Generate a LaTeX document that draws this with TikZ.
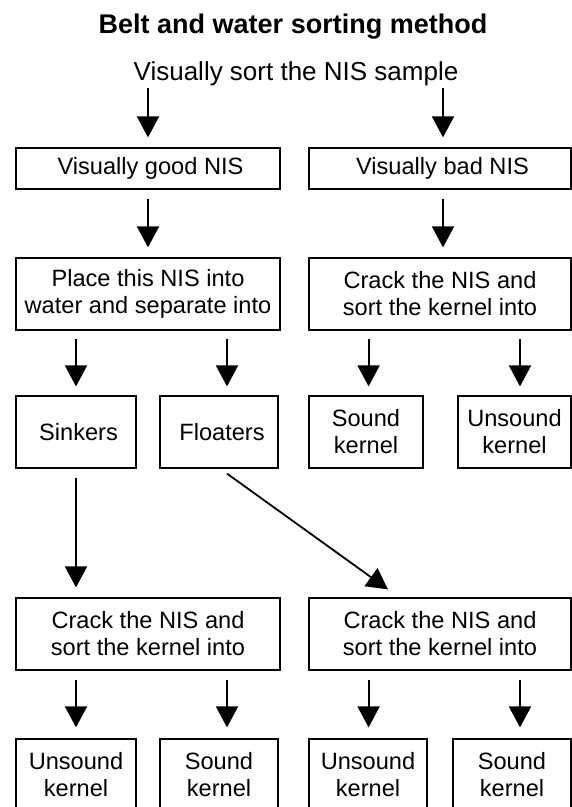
\documentclass[tikz,border=0pt]{standalone}
\usepackage{fontspec}
\setmainfont{Liberation Sans}
\usetikzlibrary{arrows.meta}
\begin{document}
\begin{tikzpicture}[x=1pt,y=-1pt,
  box/.style={draw, line width=1.2pt, inner sep=0pt, align=center,
    font=\fontsize{23.6}{27}\selectfont},
  arr/.style={line width=1.8pt, -{Triangle[length=21pt,width=22pt]}},
  lbl/.style={inner sep=0pt, anchor=base}]
\useasboundingbox (0,0) rectangle (572,807);
\clip (0,0) rectangle (572,807);
\fill[white] (0,0) rectangle (572,807);

\node[lbl, font=\fontsize{27}{31}\selectfont\bfseries] (title) at (293,33) {Belt and water sorting method};
\node[lbl, font=\fontsize{26}{30}\selectfont] (sub) at (296,80) {Visually sort the NIS sample};

\node[box, minimum width=264, minimum height=41] (good) at (148,168.5) {\hspace*{5pt}Visually good NIS};
\node[box, minimum width=262, minimum height=41] (bad) at (440,168.5) {\hspace*{5pt}Visually bad NIS};

\node[box, minimum width=264, minimum height=72] (place) at (148,294) {Place this NIS into\\water and separate into};
\node[box, minimum width=262, minimum height=72] (crackT) at (440,294) {Crack the NIS and\\sort the kernel into};

\node[box, minimum width=120, minimum height=72] (sink) at (76,432) {\hspace*{5pt}Sinkers};
\node[box, minimum width=118, minimum height=72] (float) at (219,432) {\hspace*{6pt}Floaters};
\node[box, minimum width=114, minimum height=72] (soundA) at (366,432) {Sound\\kernel};
\node[box, minimum width=113, minimum height=72] (unsoundA) at (514.5,432) {Unsound\\kernel};

\node[box, minimum width=264, minimum height=72] (crackL) at (148,634) {Crack the NIS and\\sort the kernel into};
\node[box, minimum width=262, minimum height=72] (crackR) at (440,634) {Crack the NIS and\\sort the kernel into};

\node[box, minimum width=120, minimum height=72] (unsoundB) at (76,775) {Unsound\\kernel};
\node[box, minimum width=118, minimum height=72] (soundB) at (219,775) {Sound\\kernel};
\node[box, minimum width=118, minimum height=72] (unsoundC) at (368,775) {Unsound\\kernel};
\node[box, minimum width=118, minimum height=72] (soundC) at (512,775) {Sound\\kernel};

% column coordinates
\coordinate (cA) at ([xshift=3pt]bad.north);
\coordinate (cF) at ([xshift=8pt]float.north);
\coordinate (cS) at ([xshift=2.6pt]soundA.north);
\coordinate (cU) at ([xshift=5.5pt]unsoundA.north);
\coordinate (dB) at ([xshift=8pt]soundB.north);
\coordinate (dC) at ([xshift=0.6pt]unsoundC.north);
\coordinate (dD) at ([xshift=8pt]soundC.north);

% top arrows
\draw[arr, shorten >=10pt] (good.north |- sub.base) ++(0,8) -- (good.north);
\draw[arr, shorten >=10pt] (cA |- sub.base) ++(0,8) -- (cA);

\draw[arr, shorten <=9pt, shorten >=10pt] (good) -- (place);
\draw[arr, shorten <=9pt, shorten >=10pt] (cA |- bad.south) -- (cA |- crackT.north);

\draw[arr, shorten <=8pt, shorten >=9pt] (sink.north |- place.south) -- (sink.north);
\draw[arr, shorten <=8pt, shorten >=9pt] (cF |- place.south) -- (cF);
\draw[arr, shorten <=8pt, shorten >=9pt] (cS |- crackT.south) -- (cS);
\draw[arr, shorten <=8pt, shorten >=9pt] (cU |- crackT.south) -- (cU);

\draw[arr, shorten <=9pt, shorten >=10pt] (sink.south) -- (sink.south |- crackL.north);
\draw[arr] ([xshift=8pt,yshift=-5pt]float.south) -- ([xshift=-52pt,yshift=8pt]crackR.north);

\draw[arr, shorten <=9pt, shorten >=11pt] (unsoundB.north |- crackL.south) -- (unsoundB.north);
\draw[arr, shorten <=9pt, shorten >=11pt] (dB |- crackL.south) -- (dB);
\draw[arr, shorten <=9pt, shorten >=11pt] (dC |- crackR.south) -- (dC);
\draw[arr, shorten <=9pt, shorten >=11pt] (dD |- crackR.south) -- (dD);
\end{tikzpicture}
\end{document}
